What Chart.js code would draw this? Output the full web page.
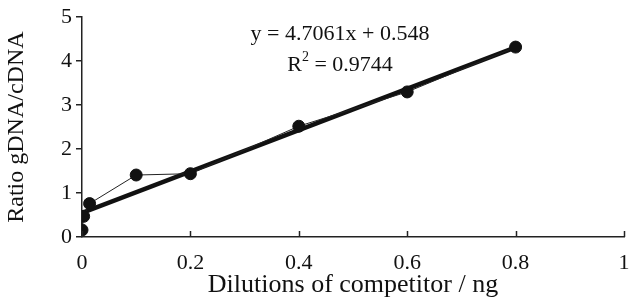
<!DOCTYPE html>
<html>
<head>
<meta charset="utf-8">
<script src="https://cdn.jsdelivr.net/npm/chart.js@4/dist/chart.umd.min.js"></script>
<style>
  html, body { margin: 0; padding: 0; background: #fff; }
  #wrap { width: 631px; height: 304px; }
</style>
</head>
<body>
<div id="wrap"><canvas id="ratioChart"></canvas></div>
<script>
// Measured ratios for each competitor dilution
const dilutions = [0, 0.003, 0.014, 0.1, 0.2, 0.4, 0.6, 0.8];
const ratios = [0.16, 0.47, 0.76, 1.41, 1.44, 2.52, 3.3, 4.32];

// Linear fit shown on the chart
const slope = 4.7061;
const intercept = 0.548;
const rSquared = '0.9744';
const fitRange = [0, 0.8];

const xTicks = [0, 0.2, 0.4, 0.6, 0.8, 1];
const yTicks = [0, 1, 2, 3, 4, 5];

const serif = '"Liberation Serif", "DejaVu Serif", serif';

// Inward ticks on the x axis plus the fit equation text
const extrasPlugin = {
    id: 'extras',
    afterDraw(chart) {
        const ctx = chart.ctx;
        const x = chart.scales.x;
        const y0 = chart.scales.y.getPixelForValue(0);
        ctx.save();
        ctx.strokeStyle = '#222';
        ctx.lineWidth = 1.5;
        xTicks.forEach(v => {
            const px = Math.round(x.getPixelForValue(v)) + 0.5;
            ctx.beginPath();
            ctx.moveTo(px, y0);
            ctx.lineTo(px, y0 - 6);
            ctx.stroke();
        });

        ctx.fillStyle = '#111';
        ctx.textBaseline = 'alphabetic';
        const big = '22px ' + serif, small = '14px ' + serif;
        ctx.font = big;
        const line1 = 'y = ' + slope + 'x + ' + intercept;
        const w1 = ctx.measureText(line1).width;
        ctx.fillText(line1, 340 - w1 / 2, 40);

        const a = 'R', b = '2', c = ' = ' + rSquared;
        const wa = ctx.measureText(a).width;
        const wc = ctx.measureText(c).width;
        ctx.font = small;
        const wb = ctx.measureText(b).width;
        const sx = 340 - (wa + wb + wc) / 2;
        ctx.font = big;
        ctx.fillText(a, sx, 71);
        ctx.font = small;
        ctx.fillText(b, sx + wa, 61);
        ctx.font = big;
        ctx.fillText(c, sx + wa + wb, 71);
        ctx.restore();
    }
};

function initializeChart() {
    const ctx = document.getElementById('ratioChart').getContext('2d');
    new Chart(ctx, {
        type: 'scatter',
        data: {
            datasets: [
                {
                    label: 'Fit',
                    data: fitRange.map(v => ({ x: v, y: slope * v + intercept })),
                    showLine: true,
                    borderColor: '#111',
                    borderWidth: 4.5,
                    pointRadius: 0,
                    order: 2
                },
                {
                    label: 'Ratio',
                    data: dilutions.map((d, i) => ({ x: d, y: ratios[i] })),
                    showLine: true,
                    borderColor: '#222',
                    borderWidth: 1,
                    backgroundColor: '#111',
                    pointBackgroundColor: '#111',
                    pointBorderColor: '#111',
                    pointRadius: 6,
                    order: 1
                }
            ]
        },
        options: {
            responsive: true,
            maintainAspectRatio: false,
            animation: false,
            layout: { padding: { left: 0, right: 0, top: 13, bottom: 3 } },
            plugins: {
                legend: { display: false },
                tooltip: { enabled: false }
            },
            scales: {
                x: {
                    type: 'linear',
                    min: 0,
                    max: 1,
                    afterBuildTicks: s => { s.ticks = xTicks.map(v => ({ value: v })); },
                    afterFit: s => { s.height = 64; s.paddingRight = 6; },
                    border: { display: true, color: '#222', width: 1.5 },
                    grid: { display: false },
                    ticks: {
                        color: '#111',
                        padding: 5,
                        maxRotation: 0,
                        font: { family: serif, size: 22 },
                        callback: v => String(v)
                    },
                    title: {
                        display: true,
                        text: 'Dilutions of competitor / ng',
                        color: '#111',
                        padding: { top: 0, bottom: 0 },
                        font: { family: serif, size: 26 }
                    }
                },
                y: {
                    min: 0,
                    max: 5,
                    afterBuildTicks: s => { s.ticks = yTicks.map(v => ({ value: v })); },
                    afterFit: s => { s.width = 82; },
                    border: { display: true, color: '#222', width: 1.5 },
                    grid: {
                        display: true,
                        drawOnChartArea: false,
                        drawTicks: true,
                        tickLength: 6,
                        color: '#222',
                        lineWidth: 1.5
                    },
                    ticks: {
                        color: '#111',
                        padding: 4,
                        font: { family: serif, size: 22 }
                    },
                    title: {
                        display: true,
                        text: 'Ratio gDNA/cDNA',
                        color: '#111',
                        padding: { top: 2, bottom: 2 },
                        font: { family: serif, size: 24 }
                    }
                }
            }
        },
        plugins: [extrasPlugin]
    });
}

document.addEventListener('DOMContentLoaded', initializeChart);
</script>
</body>
</html>
